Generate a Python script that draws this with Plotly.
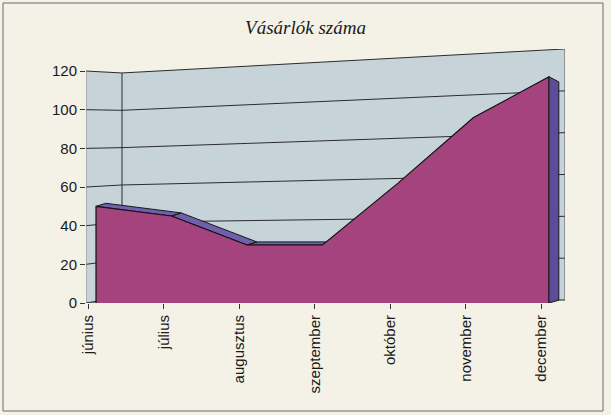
import numpy as np
import plotly.graph_objects as go

# ---- data ----
months = ["június", "július", "augusztus", "szeptember", "október", "november", "december"]
visitors = [50, 45, 30, 30, 62, 96, 117]
y_ticks = [0, 20, 40, 60, 80, 100, 120]
title_text = "Vásárlók száma"

# ---- styling / geometry (pixel calibration of the pseudo-3D frame) ----
W, H = 611, 415
PL, PR, PT, PB = 86, 565, 49, 303          # plot area in pixels
X0PX, XSTEP = 96.0, 75.5                   # pixel of first category, px per category
YPX = 1.933                                # px per unit on the front scale
DEPTH_DX, DEPTH_DY = 0.13, 1.6             # depth offset of the ribbon top

WALL = "#c6d4d9"
AREA = "#a5437f"
TOPF = "#6e60ad"
SIDE = "#5d4d98"
BG = "#f4f1e6"


def X(px):
    return (px - X0PX) / XSTEP


def Y(py):
    return (PB - py) / YPX


idx = np.arange(len(months), dtype=float)
vals = np.array(visitors, dtype=float)

shapes = []

# back + side wall
wall_pts = [(86, 71), (122, 73), (565, 49), (565, 300), (550, 303), (86, 303)]
path = "M " + " L ".join(f"{X(a):.4f},{Y(b):.4f}" for a, b in wall_pts) + " Z"
shapes.append(dict(type="path", path=path, xref="x", yref="y", fillcolor=WALL,
                   line=dict(width=0), layer="below"))

# perspective gridlines derived from the tick values
for v in y_ticks:
    pf = (86, PB - YPX * v)
    pbl = (122, 297 - 1.867 * v)
    pbr = (565, 300 - 2.092 * v)
    p = f"M {X(pf[0]):.4f},{Y(pf[1]):.4f} L {X(pbl[0]):.4f},{Y(pbl[1]):.4f} L {X(pbr[0]):.4f},{Y(pbr[1]):.4f}"
    shapes.append(dict(type="path", path=p, xref="x", yref="y",
                       line=dict(color="#2b2b2b", width=1), layer="below"))

# wall corner edges
for (a, b), (c, d), col in [((122, 73), (122, 297), "#2b2b2b"),
                            ((565, 49), (565, 300), "#555555"),
                            ((86, 71), (86, 303), "#8a8a8a"),
                            ((86, 303), (550, 303), "#3a3a3a")]:
    shapes.append(dict(type="line", x0=X(a), y0=Y(b), x1=X(c), y1=Y(d), xref="x", yref="y",
                       line=dict(color=col, width=1), layer="below"))

# outer frame
shapes.append(dict(type="rect", xref="paper", yref="paper",
                   x0=(3 - PL) / (PR - PL), x1=(603 - PL) / (PR - PL),
                   y0=(PB - 411) / (PB - PT), y1=(PB - 3) / (PB - PT),
                   line=dict(color="#6a6a6a", width=1), fillcolor="rgba(0,0,0,0)", layer="below"))

fig = go.Figure()

# top face of the ribbon (only visible on non-rising segments)
bx, by = [], []
for i in range(len(vals) - 1):
    if vals[i + 1] <= vals[i]:
        bx += [idx[i], idx[i + 1], idx[i + 1] + DEPTH_DX, idx[i] + DEPTH_DX, idx[i], None]
        by += [vals[i], vals[i + 1], vals[i + 1] + DEPTH_DY, vals[i] + DEPTH_DY, vals[i], None]
fig.add_trace(go.Scatter(x=bx, y=by, mode="lines", fill="toself", fillcolor=TOPF,
                         line=dict(color="#1a1a1a", width=1), hoverinfo="skip", showlegend=False))

# front face of the area
fx = [idx[0]] + list(idx) + [idx[-1]]
fy = [0] + list(vals) + [0]
fig.add_trace(go.Scatter(x=fx, y=fy, mode="lines", fill="toself", fillcolor=AREA,
                         line=dict(color="#111111", width=1.2), name="Vásárlók",
                         showlegend=False))

# right side face
last = idx[-1]
sx = [last, last, last + DEPTH_DX, last + DEPTH_DX, last]
sy = [0, vals[-1], vals[-1] - 2.6, 1.5, 0]
fig.add_trace(go.Scatter(x=sx, y=sy, mode="lines", fill="toself", fillcolor=SIDE,
                         line=dict(color="#1a1a1a", width=1), hoverinfo="skip", showlegend=False))

fig.update_layout(
    width=W, height=H, autosize=False,
    margin=dict(l=PL, r=W - PR, t=PT, b=H - PB, pad=0),
    paper_bgcolor=BG, plot_bgcolor=BG,
    shapes=shapes,
    title=dict(text=f"<i>{title_text}</i>", x=0.5, xanchor="center", xref="container",
               y=1 - 27 / H, yanchor="middle", yref="container",
               font=dict(family="Liberation Serif, Times New Roman, serif", size=19, color="#1a1a1a")),
    font=dict(family="Liberation Sans, Arial, sans-serif", size=15, color="#1a1a1a"),
)
fig.update_xaxes(range=[X(PL), X(PR)], tickmode="array", tickvals=idx - 0.1, ticktext=months,
                 tickangle=-90, ticks="outside", ticklen=5, tickcolor="#333333",
                 showgrid=False, zeroline=False, showline=False, fixedrange=True)
fig.update_yaxes(range=[0, Y(PT)], tickmode="array", tickvals=y_ticks,
                 ticks="outside", ticklen=5, tickcolor="#333333",
                 showgrid=False, zeroline=False, showline=False, fixedrange=True)

fig.write_html("out.html", config={"displayModeBar": False},
               post_script="document.body.style.margin='0';document.body.style.background='#f4f1e6';")
